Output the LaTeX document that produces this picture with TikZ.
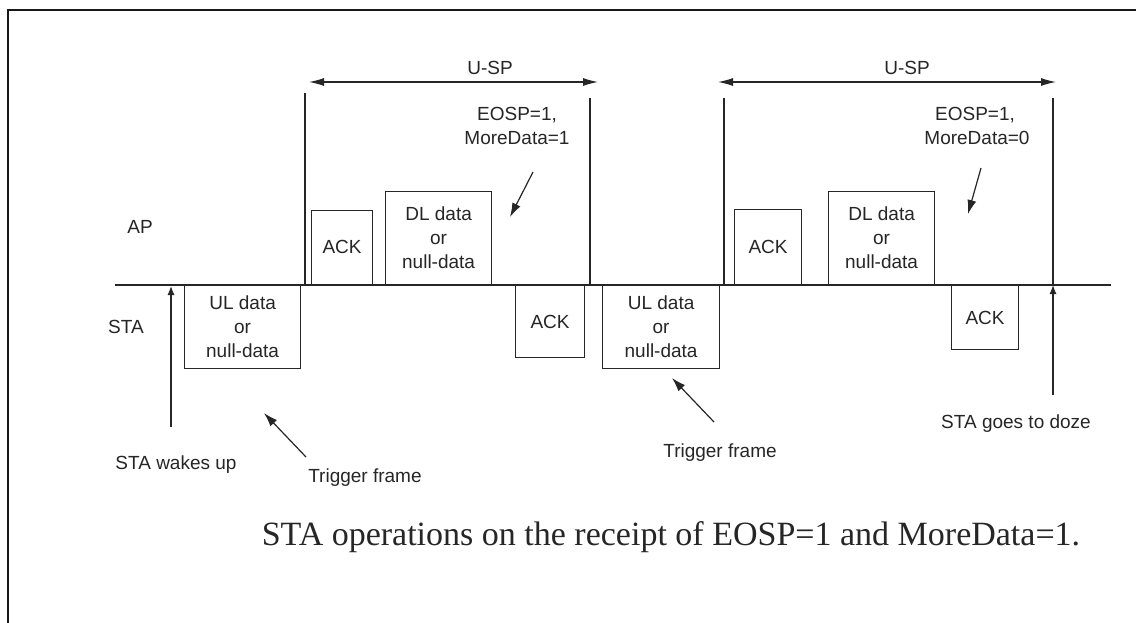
\documentclass[tikz,border=0pt]{standalone}
\usepackage{fontspec}
\setmainfont{Liberation Serif}
\setsansfont{Liberation Sans}
\usetikzlibrary{arrows.meta}

\tikzset{
  ink/.style={draw=black!85, line width=1.2pt},
  lbl/.style={font=\sffamily\fontsize{19}{24}\selectfont, text=black!85, inner sep=0pt, align=center},
  frame/.style={ink, font=\sffamily\fontsize{19}{24}\selectfont, text=black!85, inner sep=0pt, align=center, anchor=north west},
  tip/.style={ink, -{Latex[length=14pt,width=9pt]}},
  smalltip/.style={ink, -{Latex[length=9pt,width=7pt]}},
  span/.style={ink, {Latex[length=15pt,width=8pt]}-{Latex[length=15pt,width=8pt]}},
}

\begin{document}
\begin{tikzpicture}[x=1pt, y=-1pt]
  % page area and outer frame
  \useasboundingbox (0,0) rectangle (1136,623);
  \fill[white] (0,0) rectangle (1136,623);
  \draw[draw=black!90, line width=1.6pt] (8,623) -- (8,10) -- (1136,10);

  % time axis
  \coordinate (axL) at (115,285);
  \coordinate (axR) at (1111,285);
  \draw[ink] (axL) -- (axR);

  % row labels
  \node[lbl] (ap)  at (140,227) {AP};
  \node[lbl] (sta) at (126,327) {STA};

  % ---- first service period ----
  \node[frame, minimum width=116pt, minimum height=83pt] (ul1) at (184,285) {UL data\\or\\null-data};
  \node[frame, minimum width=61pt, minimum height=74pt, anchor=south west] (ack1) at (311,285) {ACK};
  \node[frame, minimum width=106pt, minimum height=93pt, anchor=south west] (dl1) at (385,285) {DL data\\or\\null-data};
  \node[frame, minimum width=69pt, minimum height=72pt] (sack1) at (515,285) {ACK};

  \coordinate (s1a) at (305,93);  \coordinate (s1b) at (305,285);
  \coordinate (e1a) at (590,98);  \coordinate (e1b) at (590,285);
  \draw[ink] (s1a) -- (s1b);
  \draw[ink] (e1a) -- (e1b);
  \coordinate (u1l) at (309,82);  \coordinate (u1r) at (598,82);
  \draw[span] (u1l) -- (u1r);
  \node[lbl] (usp1) at (490,68) {U-SP};

  \node[lbl] (eosp1) at (517,115) {EOSP=1,};
  \node[lbl] (md1)   at (517,138) {MoreData=1};
  \coordinate (p1a) at (533,172); \coordinate (p1b) at (510,217);
  \draw[tip] (p1a) -- (p1b);

  % station wakes up
  \coordinate (wk0) at (171,427); \coordinate (wk1) at (171,286);
  \draw[smalltip] (wk0) -- (wk1);
  \node[lbl] (wake) at (176,465) {STA wakes up};

  % trigger frame pointer (first)
  \coordinate (t1a) at (306,457); \coordinate (t1b) at (264,413);
  \draw[tip] (t1a) -- (t1b);
  \node[lbl] (trig1) at (365,478) {Trigger frame};

  % ---- second service period ----
  \node[frame, minimum width=117pt, minimum height=83pt] (ul2) at (602,285) {UL data\\or\\null-data};
  \node[frame, minimum width=67pt, minimum height=75pt, anchor=south west] (ack2) at (734,285) {ACK};
  \node[frame, minimum width=106pt, minimum height=93pt, anchor=south west] (dl2) at (828,285) {DL data\\or\\null-data};
  \node[frame, minimum width=67pt, minimum height=64pt] (sack2) at (951,285) {ACK};

  \coordinate (s2a) at (724,98);  \coordinate (s2b) at (724,285);
  \coordinate (e2a) at (1053,98); \coordinate (e2b) at (1053,285);
  \draw[ink] (s2a) -- (s2b);
  \draw[ink] (e2a) -- (e2b);
  \coordinate (u2l) at (718,82);  \coordinate (u2r) at (1056,82);
  \draw[span] (u2l) -- (u2r);
  \node[lbl] (usp2) at (907,68) {U-SP};

  \node[lbl] (eosp2) at (975,115) {EOSP=1,};
  \node[lbl] (md2)   at (977,138) {MoreData=0};
  \coordinate (p2a) at (981,168); \coordinate (p2b) at (968,214);
  \draw[tip] (p2a) -- (p2b);

  % trigger frame pointer (second)
  \coordinate (t2a) at (714,422); \coordinate (t2b) at (672,378);
  \draw[tip] (t2a) -- (t2b);
  \node[lbl] (trig2) at (720,453) {Trigger frame};

  % station goes to doze
  \coordinate (dz0) at (1053,395);
  \draw[smalltip] (dz0) -- (e2b);
  \node[lbl] (doze) at (1016,424) {STA goes to doze};

  % caption
  \node[font=\fontsize{34}{40}\selectfont, text=black!85, inner sep=0pt] (cap) at (671,537)
    {STA operations on the receipt of EOSP=1 and MoreData=1.};
\end{tikzpicture}
\end{document}
